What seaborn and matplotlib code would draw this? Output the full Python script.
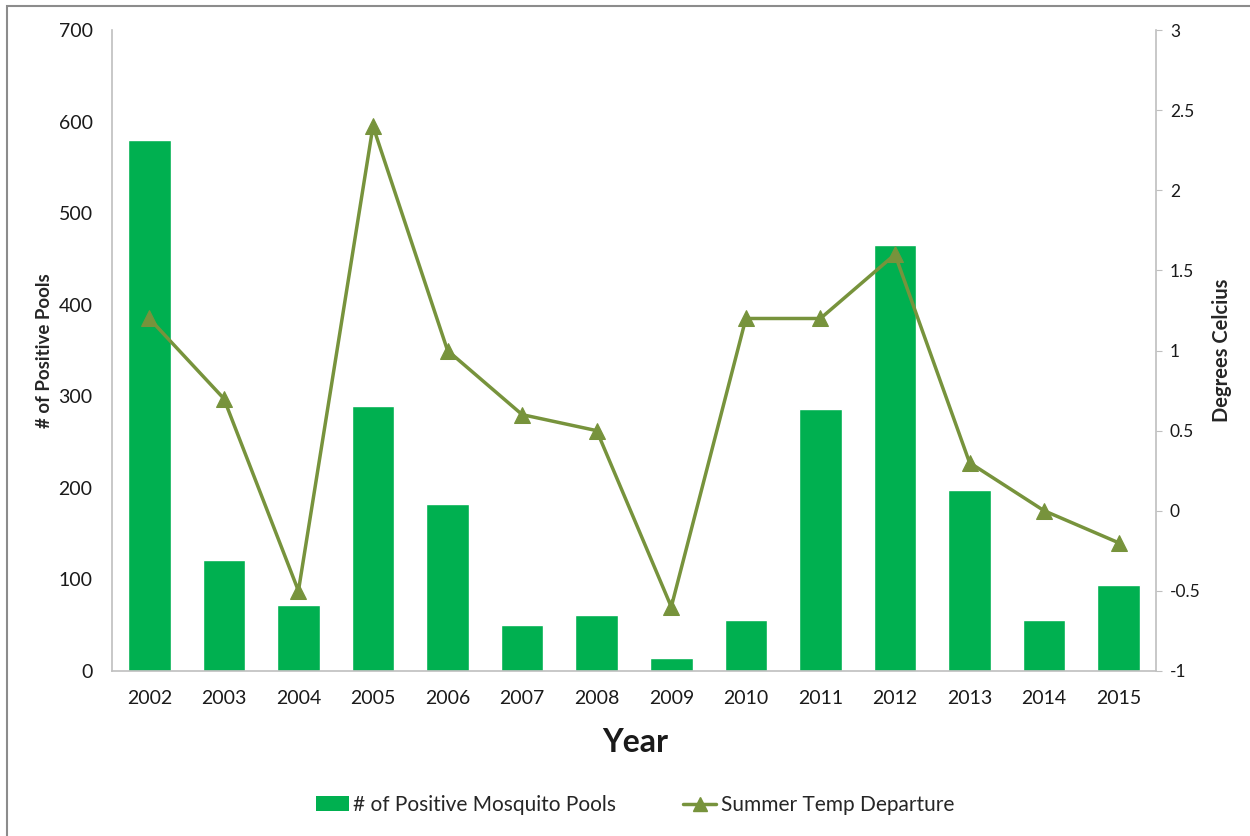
import numpy as np
import pandas as pd
import matplotlib
matplotlib.use("Agg")
import matplotlib.pyplot as plt
import seaborn as sns
from matplotlib.patches import Rectangle
from matplotlib.lines import Line2D
from matplotlib.patches import Patch

# ---- data ----
years = ['2002', '2003', '2004', '2005', '2006', '2007', '2008',
         '2009', '2010', '2011', '2012', '2013', '2014', '2015']
positive_pools = [580, 121, 72, 289, 182, 50, 61, 14, 56, 286, 465, 198, 56, 94]
temp_departure = [1.2, 0.7, -0.5, 2.4, 1.0, 0.6, 0.5, -0.6, 1.2, 1.2, 1.6, 0.3, 0.0, -0.2]

BAR_COLOR = '#00B050'
LINE_COLOR = '#77933C'
SPINE_COLOR = '#BFBFBF'

sns.set_style('white')
plt.rcParams['font.family'] = ['Lato', 'DejaVu Sans']

df = pd.DataFrame({'Year': years, 'Pools': positive_pools, 'Temp': temp_departure})

fig = plt.figure(figsize=(12.5, 8.36), dpi=100)
ax = fig.add_axes([0.0896, 0.1974, 0.8352, 0.7666])

sns.barplot(data=df, x='Year', y='Pools', color=BAR_COLOR, width=0.57,
            saturation=1, ax=ax)
ax.set_ylim(0, 700)
ax.set_yticks(range(0, 701, 100))
ax.set_xlim(-0.5, len(years) - 0.5)
ax.tick_params(axis='both', length=0, labelsize=14, colors='#1a1a1a')
ax.tick_params(axis='x', pad=14)
ax.tick_params(axis='y', pad=14)
ax.set_xlabel('')
ax.set_ylabel('# of Positive Pools', fontsize=13.5, fontweight='bold', labelpad=4)
for side in ['top', 'right']:
    ax.spines[side].set_visible(False)
for side in ['left', 'bottom']:
    ax.spines[side].set_color(SPINE_COLOR)
    ax.spines[side].set_linewidth(1.2)

ax2 = ax.twinx()
sns.lineplot(data=df, x='Year', y='Temp', color=LINE_COLOR, marker='^',
             markersize=11, markeredgecolor=LINE_COLOR, linewidth=2.5,
             sort=False, ax=ax2)
ax2.set_ylim(-1, 3)
ax2.set_yticks([-1, -0.5, 0, 0.5, 1, 1.5, 2, 2.5, 3])
ax2.set_yticklabels(['-1', '-0.5', '0', '0.5', '1', '1.5', '2', '2.5', '3'])
ax2.set_xlim(-0.5, len(years) - 0.5)
ax2.set_xlabel('')
ax2.set_ylabel('Degrees Celcius', fontsize=14.5, fontweight='bold', labelpad=8)
ax2.tick_params(axis='y', length=4, color=SPINE_COLOR, labelsize=12.5,
                colors='#1a1a1a', pad=6)
for side in ['top', 'left', 'bottom']:
    ax2.spines[side].set_visible(False)
ax2.spines['right'].set_color(SPINE_COLOR)
ax2.spines['right'].set_linewidth(1.2)
if ax2.get_legend():
    ax2.get_legend().remove()

fig.text(0.508, 0.112, 'Year', ha='center', va='center', fontsize=23,
         fontweight='bold', color='#1a1a1a')

handles = [Patch(facecolor=BAR_COLOR, edgecolor='none'),
           Line2D([0], [0], color=LINE_COLOR, marker='^', markersize=10,
                  linewidth=2.5)]
fig.legend(handles, ['# of Positive Mosquito Pools', 'Summer Temp Departure'],
           loc='center', bbox_to_anchor=(0.508, 0.037), ncol=2, frameon=False,
           fontsize=15, handlelength=1.6, handletextpad=0.2, columnspacing=3.2)

# outer chart border
fig.patches.append(Rectangle((0.0056, -0.05), 1.1, 0.05 + 0.9928,
                             transform=fig.transFigure, fill=False,
                             edgecolor='#8c8c8c', linewidth=1.5))

fig.savefig('out.png', dpi=100)
